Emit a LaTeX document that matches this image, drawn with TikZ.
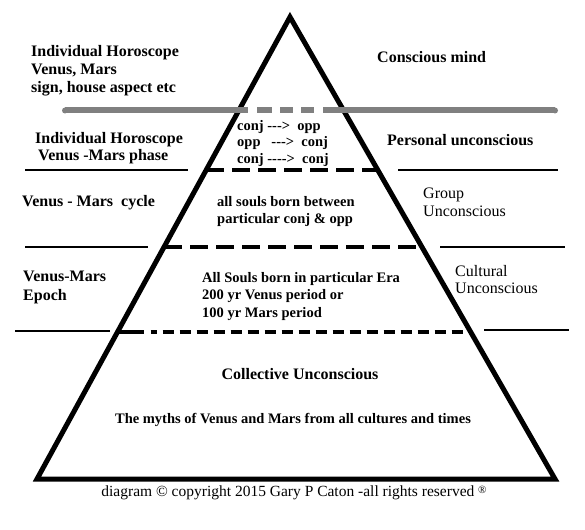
\documentclass[tikz,border=0pt]{standalone}
\usepackage{fontspec}
\setmainfont{Liberation Serif}[Ligatures=TeXOff]
\usetikzlibrary{calc}
\definecolor{grayline}{RGB}{128,128,128}
\tikzset{
  big/.style={font=\bfseries\fontsize{16}{18}\selectfont, align=left, inner sep=0pt, anchor=west},
  reg/.style={font=\fontsize{16}{18}\selectfont, align=left, inner sep=0pt, anchor=west},
  sml/.style={font=\bfseries\fontsize{14.5}{17}\selectfont, align=left, inner sep=0pt, anchor=west},
  ctr/.style={inner sep=0pt, anchor=center},
  tri/.style={line width=5pt, line join=miter},
  dashln/.style={line width=4pt, dash pattern=on 18pt off 8pt},
  rule/.style={line width=2pt},
  grayln/.style={line width=6pt, draw=grayline},
}
\begin{document}
\begin{tikzpicture}[x=1pt,y=-1pt]
\useasboundingbox[fill=white] (0,0) rectangle (585,529);
% triangle
\coordinate (apex) at (290,17);
\coordinate (bl) at (37,479);
\coordinate (br) at (555,479);
\draw[tri] (apex) -- (bl) -- (br) -- cycle;
% level coordinates on the edges
\coordinate (l1) at ($(apex)!0.3312!(bl)$);
\coordinate (r1) at ($(apex)!0.3312!(br)$);
\coordinate (l2) at ($(apex)!0.4978!(bl)$);
\coordinate (r2) at ($(apex)!0.4978!(br)$);
\coordinate (l3) at ($(apex)!0.6818!(bl)$);
\coordinate (r3) at ($(apex)!0.6818!(br)$);
% gray line
\coordinate (g0) at (65,110.5);
\coordinate (g1) at (248,110.5);
\coordinate (g2) at (323,110.5);
\coordinate (g3) at (555,110.5);
\fill[grayline] (g0) circle (3pt);
\draw[grayln] (g0) -- (g1);
\draw[grayln, dash pattern=on 0pt off 9pt on 15pt off 8pt on 13pt off 8pt on 13pt off 9pt] (g1) -- (g2);
\draw[grayln] (g2) -- (g3);
\fill[grayline] (g3) circle (3pt);
% dashed levels
\draw[dashln] (l1) -- (r1);
\draw[dashln] (l2) -- (r2);
\draw[line width=4pt, dash pattern=on 26pt off 7pt on 6pt off 6pt] (l3) -- ($(l3)+(45,0)$);
\draw[line width=4pt, dash pattern=on 11pt off 6pt] ($(l3)+(45,0)$) -- (r3);
% side rules
\coordinate (a1) at (25,170); \coordinate (a2) at (188,170);
\coordinate (b1) at (398,170); \coordinate (b2) at (558,170);
\coordinate (c1) at (25,247); \coordinate (c2) at (148,247);
\coordinate (d1) at (440,247); \coordinate (d2) at (565,247);
\coordinate (e1) at (15,331); \coordinate (e2) at (110,331);
\coordinate (f1) at (484,330); \coordinate (f2) at (569,330);
\draw[rule] (a1) -- (a2);
\draw[rule] (b1) -- (b2);
\draw[rule] (c1) -- (c2);
\draw[rule] (d1) -- (d2);
\draw[rule] (e1) -- (e2);
\draw[rule] (f1) -- (f2);
% texts
\node[big] (ih1) at (31,71) {Individual Horoscope\\Venus, Mars\\sign, house aspect etc};
\node[big] (cm) at (377,57) {Conscious mind};
\node[big, font=\bfseries\fontsize{16}{17}\selectfont] (ih2) at (35,148.5) {Individual Horoscope\\\hspace*{3pt}Venus -Mars phase};
\node[sml, font=\bfseries\fontsize{14.5}{16.5}\selectfont] (conj) at (237,143.5) {conj --->\ \ opp\\opp\ \ \ --->\ \ conj\\conj ---->\ \ conj};
\node[big] (pu) at (387,140) {Personal unconscious};
\node[big] (vmc) at (22,203) {Venus - Mars\ \ cycle};
\node[sml] (souls) at (217,211.5) {all souls born between\\particular conj \& opp};
\node[reg] (gu) at (423,202) {Group\\Unconscious};
\node[big, font=\bfseries\fontsize{16}{19}\selectfont] (vme) at (23,287.5) {Venus-Mars\\Epoch};
\node[sml, font=\bfseries\fontsize{14.5}{17.5}\selectfont] (era) at (202,296.5) {All Souls born in particular Era\\200 yr Venus period or\\100 yr Mars period};
\node[reg, font=\fontsize{16}{17}\selectfont] (cu) at (455,279.5) {Cultural\\Unconscious};
\node[ctr, font=\bfseries\fontsize{16}{18}\selectfont] (coll) at (300,374) {Collective Unconscious};
\node[ctr, font=\bfseries\fontsize{14.5}{17}\selectfont] (myths) at (293,420) {The myths of Venus and Mars from all cultures and times};
\node[ctr, font=\fontsize{15.5}{18}\selectfont] (copy) at (294,493) {diagram © copyright 2015 Gary P Caton -all rights reserved {\fontsize{11}{11}\selectfont\raisebox{3pt}{®}}};
\end{tikzpicture}
\end{document}
